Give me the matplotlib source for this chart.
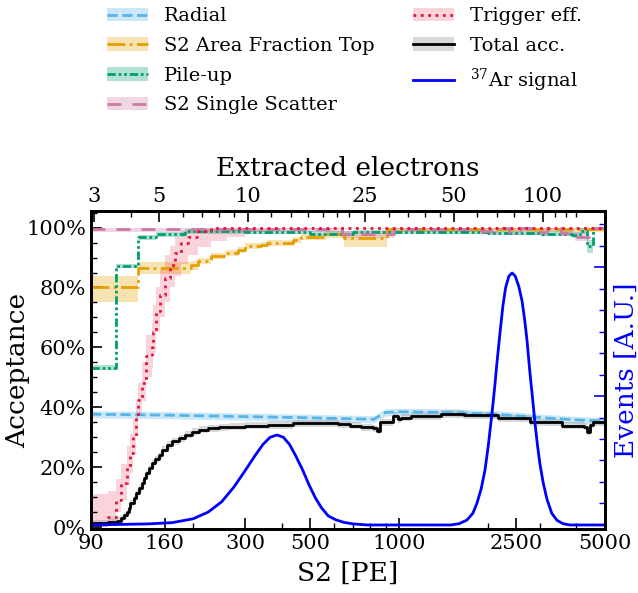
import numpy as np
import matplotlib
matplotlib.use("Agg")
import matplotlib.pyplot as plt
from matplotlib.patches import Patch
from matplotlib.lines import Line2D
from matplotlib.ticker import (FixedLocator, FuncFormatter, NullFormatter,
                               MultipleLocator, PercentFormatter, LogLocator)

plt.rcParams['font.family'] = 'serif'
plt.rcParams['font.serif'] = ['DejaVu Serif']
plt.rcParams['mathtext.fontset'] = 'dejavuserif'

# PE per extracted electron
g2 = 30.7

# --- acceptance curves (S2 in PE) ---
rad_s2 = [90, 160, 300, 500, 820, 900, 1000, 1500, 2000, 2500, 3000, 4000, 5000]
rad_acc = [0.377, 0.374, 0.369, 0.365, 0.360, 0.383, 0.385, 0.383, 0.378, 0.372, 0.366, 0.358, 0.354]

aft_s2 = [90, 130.4, 196, 208, 230, 256, 284, 300, 341, 355, 436, 464, 567, 648, 720, 815, 910, 5000]
aft_acc = [0.80, 0.866, 0.876, 0.89, 0.906, 0.915, 0.926, 0.94, 0.943, 0.95, 0.96, 0.97, 0.98, 0.966, 0.966, 0.966, 0.995, 0.995]
aft_lo = [0.75, 0.845, 0.86, 0.88, 0.895, 0.905, 0.915, 0.93, 0.935, 0.94, 0.95, 0.96, 0.965, 0.935, 0.935, 0.935, 0.985, 0.985]
aft_hi = [0.84, 0.885, 0.89, 0.90, 0.915, 0.925, 0.935, 0.95, 0.953, 0.96, 0.97, 0.98, 0.99, 0.98, 0.98, 0.98, 1.0, 1.0]

pu_s2 = [90, 109.5, 130.4, 149.6, 187, 300, 500, 700, 1000, 2000, 3000, 3850, 4100, 4344, 4560, 5000]
pu_acc = [0.532, 0.873, 0.967, 0.977, 0.987, 0.985, 0.98, 0.985, 0.985, 0.983, 0.98, 0.975, 0.99, 0.94, 1.0, 1.0]
pu_lo = [0.525, 0.865, 0.96, 0.97, 0.98, 0.978, 0.973, 0.978, 0.978, 0.976, 0.972, 0.965, 0.98, 0.915, 0.995, 0.995]
pu_hi = [0.54, 0.88, 0.975, 0.985, 0.995, 0.992, 0.988, 0.992, 0.992, 0.99, 0.988, 0.985, 1.0, 0.96, 1.0, 1.0]

ss_s2 = [90, 640, 960, 1900, 2160, 2360, 2600, 2870, 3180, 3550, 3950, 4400, 5000]
ss_acc = [0.995, 0.98, 0.995, 0.99, 0.997, 0.985, 0.997, 0.985, 0.997, 0.983, 0.97, 1.0, 1.0]
ss_lo = [0.985, 0.965, 0.985, 0.98, 0.99, 0.975, 0.99, 0.975, 0.99, 0.972, 0.955, 0.995, 0.995]
ss_hi = [1.0, 0.99, 1.0, 1.0, 1.0, 0.995, 1.0, 0.995, 1.0, 0.993, 0.985, 1.0, 1.0]

trig_s2 = [90, 102.8, 109.5, 114.2, 118.9, 122.5, 125.0, 128.4, 130.4, 133.6, 138.9, 144.5,
           146.1, 149.6, 154.9, 161.1, 167.5, 173.5, 181.9, 192.2, 207.7, 229.9, 260, 300, 350, 5000]
trig_acc = [0.015, 0.033, 0.09, 0.147, 0.20, 0.247, 0.30, 0.368, 0.425, 0.48, 0.57, 0.60,
            0.652, 0.72, 0.776, 0.833, 0.876, 0.916, 0.95, 0.97, 0.99, 1.0, 1.0, 1.0, 1.0, 1.0]
trig_lo = [0.0, 0.01, 0.05, 0.09, 0.14, 0.18, 0.24, 0.31, 0.37, 0.42, 0.50, 0.53,
           0.58, 0.65, 0.70, 0.75, 0.80, 0.84, 0.88, 0.91, 0.935, 0.955, 0.97, 0.985, 0.995, 0.995]
trig_hi = [0.11, 0.12, 0.16, 0.21, 0.27, 0.31, 0.36, 0.42, 0.48, 0.55, 0.64, 0.68,
           0.74, 0.80, 0.86, 0.91, 0.94, 0.97, 0.99, 1.0, 1.0, 1.0, 1.0, 1.0, 1.0, 1.0]

tot_s2 = [90, 102.8, 110, 114.2, 116.5, 118.9, 121, 122.5, 125.5, 128.4, 131, 133.6, 136, 138.9,
          141.5, 144.5, 148, 152.6, 157, 162.6, 170, 178.5, 187, 197.5, 210, 225.4, 245, 263.9,
          300, 358.4, 436, 567, 620, 680, 740, 815, 840, 862, 954, 990, 1014, 1096, 1387, 1658,
          2160, 2776, 3570, 4250, 4344, 4450, 4560, 5000]
tot_acc = [0.013, 0.017, 0.022, 0.03, 0.04, 0.05, 0.065, 0.08, 0.097, 0.113, 0.13, 0.147, 0.163, 0.18,
           0.197, 0.213, 0.227, 0.24, 0.258, 0.274, 0.286, 0.297, 0.308, 0.318, 0.325, 0.33, 0.333, 0.335,
           0.338, 0.341, 0.347, 0.348, 0.344, 0.338, 0.334, 0.33, 0.322, 0.35, 0.371, 0.36, 0.366, 0.371,
           0.378, 0.374, 0.364, 0.35, 0.338, 0.336, 0.318, 0.34, 0.35, 0.35]
tot_err = 0.012

# --- 37Ar signal, arbitrary units ---
sig_s2 = [90, 140, 170, 200, 225, 250, 275, 300, 325, 345, 365, 385, 405, 425, 445, 470, 495,
          520, 545, 575, 610, 650, 700, 780,
          1500, 1600, 1700, 1780, 1839, 1900, 1958, 2010, 2068, 2110, 2149, 2201, 2252, 2300,
          2360, 2420, 2480, 2550, 2614, 2670, 2718, 2782, 2840, 2894, 2950, 3009, 3090, 3178,
          3300, 3436, 3600, 3800, 5000]
sig_val = [0.0, 0.004, 0.009, 0.024, 0.05, 0.09, 0.147, 0.21, 0.27, 0.312, 0.34, 0.349, 0.34,
           0.312, 0.27, 0.215, 0.155, 0.105, 0.067, 0.035, 0.02, 0.01, 0.004, 0.0,
           0.0, 0.005, 0.019, 0.045, 0.085, 0.14, 0.213, 0.31, 0.434, 0.53, 0.628, 0.744, 0.85, 0.92,
           0.965, 0.977, 0.965, 0.925, 0.87, 0.795, 0.717, 0.59, 0.49, 0.395, 0.31, 0.235, 0.16, 0.10,
           0.045, 0.018, 0.005, 0.0, 0.0]

xticks = [90, 160, 300, 500, 1000, 2500, 5000]
eticks = [3, 5, 10, 25, 50, 100]
eminor = [4, 6, 7, 8, 9, 12, 14, 16, 18, 20, 22, 30, 35, 40, 45, 60, 70, 80, 90, 110, 120, 130]

c_rad = '#56B4E9'
c_aft = '#E69F00'
c_pu = '#009E73'
c_ss = '#CC79A7'
c_trig = '#E8103C'

fig = plt.figure(figsize=(6.38, 5.93), dpi=100)
ax = fig.add_axes([0.1426, 0.108, 0.8056, 0.536])

def band(x, lo, hi, c, a=0.3):
    ax.fill_between(x, lo, hi, step='post', color=c, alpha=a, lw=0)

rad_s2a = np.array(rad_s2)
rad_acca = np.array(rad_acc)
ax.fill_between(rad_s2a, rad_acca - 0.012, rad_acca + 0.012, color=c_rad, alpha=0.3, lw=0)
ax.plot(rad_s2a, rad_acca, color=c_rad, ls='--', lw=2)

band(aft_s2, aft_lo, aft_hi, c_aft)
ax.plot(aft_s2, aft_acc, color=c_aft, ls='-.', lw=2, drawstyle='steps-post')

band(pu_s2, pu_lo, pu_hi, c_pu)
ax.plot(pu_s2, pu_acc, color=c_pu, ls=(0, (3, 1, 1, 1, 1, 1)), lw=2, drawstyle='steps-post')

band(ss_s2, ss_lo, ss_hi, c_ss)
ax.plot(ss_s2, ss_acc, color=c_ss, ls=(0, (5, 4)), lw=2, drawstyle='steps-post')

band(trig_s2, trig_lo, trig_hi, c_trig, 0.18)
ax.plot(trig_s2, trig_acc, color=c_trig, ls=':', lw=2, drawstyle='steps-post')

tot = np.array(tot_acc)
band(tot_s2, tot - tot_err, tot + tot_err, 'grey', 0.3)
ax.plot(tot_s2, tot, color='black', lw=2, drawstyle='steps-post')

ax.set_xscale('log')
ax.set_xlim(90, 5000)
ax.set_ylim(-0.006, 1.055)
ax.xaxis.set_major_locator(FixedLocator(xticks))
ax.xaxis.set_major_formatter(FuncFormatter(lambda v, p: '%d' % v))
ax.xaxis.set_minor_locator(LogLocator(subs=np.arange(2, 10)))
ax.xaxis.set_minor_formatter(NullFormatter())
ax.yaxis.set_major_locator(MultipleLocator(0.2))
ax.yaxis.set_minor_locator(MultipleLocator(0.05))
ax.yaxis.set_major_formatter(PercentFormatter(1.0, decimals=0))
ax.tick_params(which='both', direction='in', labelsize=15, top=False, right=False)
ax.tick_params(which='major', length=8, width=1.2)
ax.tick_params(which='minor', length=4, width=1)
for s in ax.spines.values():
    s.set_linewidth(2)
ax.set_xlabel('S2 [PE]', fontsize=19, labelpad=6)
ax.set_ylabel('Acceptance', fontsize=19)
ax.yaxis.set_label_coords(-0.118, 0.5)

sec = ax.secondary_xaxis('top', functions=(lambda s: s / g2, lambda e: e * g2))
sec.xaxis.set_major_locator(FixedLocator(eticks))
sec.xaxis.set_major_formatter(FuncFormatter(lambda v, p: '%d' % v))
sec.xaxis.set_minor_locator(FixedLocator(eminor))
sec.xaxis.set_minor_formatter(NullFormatter())
sec.tick_params(which='both', direction='in', labelsize=15)
sec.tick_params(which='major', length=8, width=1.2)
sec.tick_params(which='minor', length=4, width=1)
sec.set_xlabel('Extracted electrons', fontsize=19, labelpad=8)

ax2 = ax.twinx()
ax2.plot(sig_s2, sig_val, color='blue', lw=2)
ax2.set_ylim(-0.0155, 1.217)
ax2.yaxis.set_major_locator(MultipleLocator(0.5))
ax2.yaxis.set_minor_locator(MultipleLocator(0.5 / 6))
ax2.tick_params(which='both', direction='in', colors='blue', labelright=False)
ax2.tick_params(which='major', length=8, width=1.2)
ax2.tick_params(which='minor', length=4, width=1)
ax2.set_ylabel('Events [A.U.]', fontsize=19, color='blue')
ax2.yaxis.set_label_coords(1.018, 0.5)
for s in ax2.spines.values():
    s.set_linewidth(2)

handles = [
    (Patch(facecolor=c_rad, alpha=0.3), Line2D([], [], color=c_rad, ls='--', lw=2)),
    (Patch(facecolor=c_aft, alpha=0.3), Line2D([], [], color=c_aft, ls='-.', lw=2)),
    (Patch(facecolor=c_pu, alpha=0.3), Line2D([], [], color=c_pu, ls=(0, (3, 1, 1, 1, 1, 1)), lw=2)),
    (Patch(facecolor=c_ss, alpha=0.3), Line2D([], [], color=c_ss, ls=(0, (5, 4)), lw=2)),
    (Patch(facecolor=c_trig, alpha=0.18), Line2D([], [], color=c_trig, ls=':', lw=2)),
    (Patch(facecolor='grey', alpha=0.3), Line2D([], [], color='black', lw=2)),
    Line2D([], [], color='blue', lw=2),
]
labels = ['Radial', 'S2 Area Fraction Top', 'Pile-up', 'S2 Single Scatter',
          'Trigger eff.', 'Total acc.', r'$^{37}$Ar signal']
fig.legend(handles, labels, loc='upper center', bbox_to_anchor=(0.54, 1.017), ncol=2,
           frameon=False, fontsize=14, columnspacing=2.0, handlelength=2.1,
           handletextpad=0.8, labelspacing=0.6)

fig.savefig('out.png', dpi=100)
